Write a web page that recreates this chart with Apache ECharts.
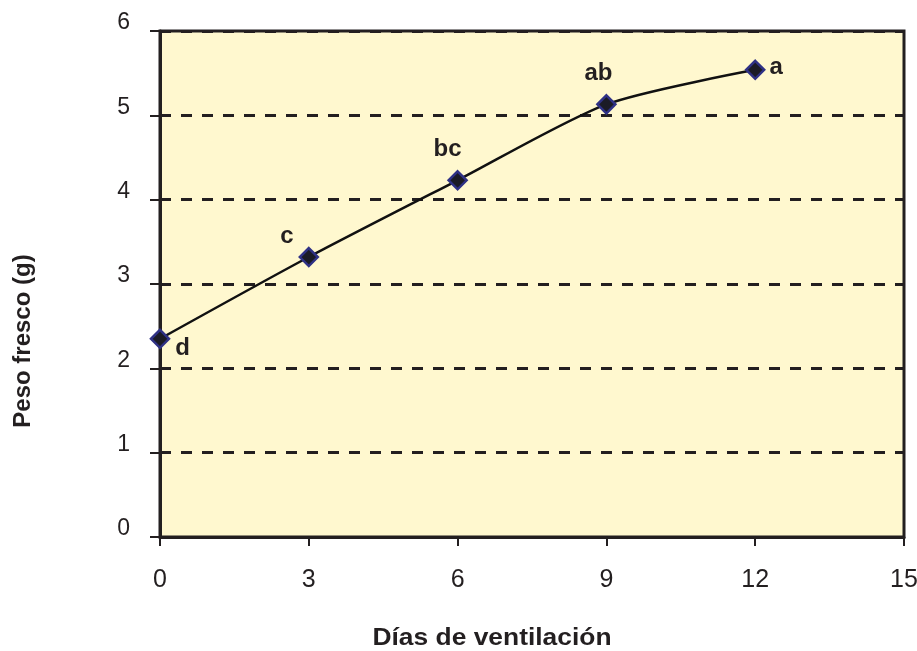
<!DOCTYPE html>
<html><head><meta charset="utf-8">
<script src="https://cdn.jsdelivr.net/npm/echarts@6/dist/echarts.min.js"></script>
<style>html,body{margin:0;padding:0;background:#fff}#c{width:917px;height:651px}</style>
</head><body><div id="c"></div>
<script>
const days = [0, 3, 6, 9, 12];
const peso = [2.35, 3.32, 4.23, 5.13, 5.54];
const letters = ['d', 'c', 'bc', 'ab', 'a'];
const xTitle = 'Días de ventilación';
const yTitle = 'Peso fresco (g)';
const labelPos = [
  {position: 'right', offset: [0, 10]},
  {position: 'left', offset: [0, -21]},
  {position: 'top', offset: [-10, -4]},
  {position: 'top', offset: [-8, -4]},
  {position: 'right', offset: [-1, -2]}
];
const font = 'Liberation Sans, Arial, sans-serif';
const ink = '#231f20';
const chart = echarts.init(document.getElementById('c'));
chart.setOption({
  animation: false,
  grid: {left: 160, right: 13, top: 31, bottom: 114, outerBoundsMode: 'none', containLabel: false, show: true, backgroundColor: '#fff8cf', borderColor: ink, borderWidth: 3},
  xAxis: {
    type: 'value', min: 0, max: 15, interval: 3,
    axisLine: {lineStyle: {color: ink, width: 3}},
    axisTick: {show: true, length: 9, lineStyle: {color: ink, width: 2}},
    axisLabel: {color: ink, fontSize: 25, fontFamily: font, margin: 31, hideOverlap: false},
    splitLine: {show: false}
  },
  yAxis: {
    type: 'value', min: 0, max: 6, interval: 1,
    axisLine: {show: true, lineStyle: {color: ink, width: 3}},
    axisTick: {show: true, length: 10, lineStyle: {color: ink, width: 2}},
    axisLabel: {color: ink, fontSize: 23, fontFamily: font, margin: 30, verticalAlign: 'bottom', lineHeight: 16},
    splitLine: {show: true, lineStyle: {color: ink, width: 3, type: [11, 10]}}
  },
  graphic: [
    {type: 'text', x: 492, y: 638, scaleX: 1.1, style: {text: xTitle, fontSize: 24, fontWeight: 'bold', fontFamily: font, fill: ink, align: 'center', verticalAlign: 'middle'}},
    {type: 'text', x: 23, y: 341, rotation: Math.PI / 2, style: {text: yTitle, fontSize: 24, fontWeight: 'bold', fontFamily: font, fill: ink, align: 'center', verticalAlign: 'middle'}}
  ],
  series: [{
    type: 'line',
    data: days.map((d, i) => ({
      value: [d, peso[i]],
      label: Object.assign({show: true, formatter: letters[i]}, labelPos[i])
    })),
    smooth: 0.25,
    lineStyle: {color: '#111', width: 2.5},
    symbol: 'diamond',
    symbolSize: 18,
    itemStyle: {color: '#1b1b26', borderColor: '#2f3185', borderWidth: 2.5},
    label: {fontSize: 24, fontWeight: 'bold', fontFamily: font, color: ink},
    z: 5
  }]
});
</script></body></html>
